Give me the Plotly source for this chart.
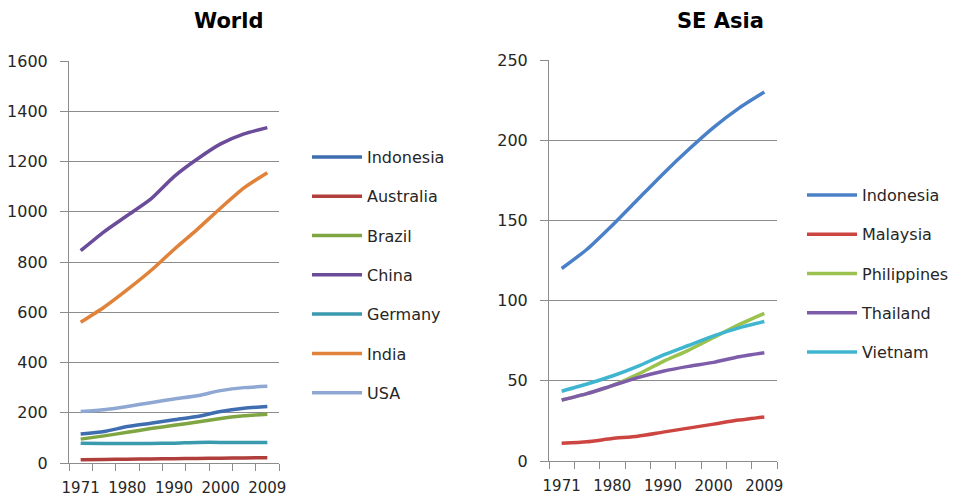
import plotly.graph_objects as go

# Population (millions), 1971-2009
years = ["1971", "1975", "1980", "1985", "1990", "1995", "2000", "2005", "2009"]
year_labels = ["1971", "", "1980", "", "1990", "", "2000", "", "2009"]

# World panel
world_names = ["Indonesia", "Australia", "Brazil", "China", "Germany", "India", "USA"]
world_colors = ["#3E6DB0", "#B03E3B", "#7FA643", "#6B4C9A", "#3A9AAE", "#E0823A", "#8EA8D3"]
indonesia_w = [115, 125, 145, 158, 172, 185, 205, 218, 225]
australia = [13, 14, 15, 16, 17, 18, 19, 20, 21]
brazil = [95, 108, 122, 137, 150, 163, 177, 188, 194]
china = [845, 920, 985, 1050, 1140, 1210, 1270, 1310, 1335]
germany = [79, 78, 78, 78, 79, 82, 82, 82, 82]
india = [560, 620, 690, 765, 850, 930, 1015, 1095, 1155]
usa = [205, 212, 225, 240, 255, 268, 288, 300, 305]
world_series = [indonesia_w, australia, brazil, china, germany, india, usa]

# SE Asia panel
sea_names = ["Indonesia", "Malaysia", "Philippines", "Thailand", "Vietnam"]
sea_colors = ["#4A80C8", "#CC4540", "#9BC24F", "#7D5CAA", "#3FB5D0"]
indonesia_s = [120, 132, 147, 163, 179, 194, 208, 220, 230]
malaysia = [11, 12, 14, 15.5, 18, 20.5, 23, 25.5, 27.5]
philippines = [38, 42, 47, 54, 62, 69, 77, 85, 92]
thailand = [38, 42, 47, 52, 56, 59, 61.5, 65, 67.5]
vietnam = [43.5, 48, 53, 59, 66, 72, 78, 83, 87]
sea_series = [indonesia_s, malaysia, philippines, thailand, vietnam]

W, H = 961, 498
FONT = "DejaVu Sans"
TXT = "#262626"
GRID = "#8C8C8C"

fig = go.Figure()

for name, color, vals in zip(world_names, world_colors, world_series):
    fig.add_trace(go.Scatter(
        x=years, y=vals, name=name, mode="lines",
        line=dict(color=color, width=3.5, shape="spline", smoothing=0.6),
        xaxis="x", yaxis="y", legend="legend", legendgroup="w" + name,
    ))

for name, color, vals in zip(sea_names, sea_colors, sea_series):
    fig.add_trace(go.Scatter(
        x=years, y=vals, name=name, mode="lines",
        line=dict(color=color, width=3.5, shape="spline", smoothing=0.6),
        xaxis="x2", yaxis="y2", legend="legend2", legendgroup="s" + name,
    ))


def px_x(p):
    return p / W


def px_y(p):
    return (H - p) / H


xcommon = dict(
    type="category", range=[-0.5, 8.5], tickmode="array", tickvals=years,
    ticktext=year_labels, tickson="boundaries", ticks="outside", ticklen=7,
    tickcolor=GRID, showline=True, linecolor=GRID, linewidth=1,
    showgrid=False, tickangle=0, automargin=False, ticklabelstandoff=11,
    tickfont=dict(family=FONT, size=15, color=TXT), fixedrange=True,
)
ycommon = dict(
    showline=True, linecolor=GRID, linewidth=1, ticks="outside", ticklen=8,
    tickcolor=GRID, showgrid=True, gridcolor=GRID, gridwidth=1,
    zeroline=False, automargin=False, ticklabelstandoff=9,
    tickfont=dict(family=FONT, size=16, color=TXT), fixedrange=True,
)

legcommon = dict(
    font=dict(family=FONT, size=16, color=TXT), bgcolor="rgba(0,0,0,0)",
    xanchor="left", yanchor="top", tracegroupgap=15.5, itemwidth=50,
    traceorder="grouped",
)

fig.update_layout(
    width=W, height=H, margin=dict(l=0, r=0, t=0, b=0, autoexpand=False),
    paper_bgcolor="white", plot_bgcolor="white",
    xaxis=dict(domain=[px_x(69), px_x(279)], anchor="y", **xcommon),
    yaxis=dict(domain=[px_y(463), px_y(61)], anchor="x", range=[0, 1600],
               dtick=200, **ycommon),
    xaxis2=dict(domain=[px_x(549), px_x(777)], anchor="y2", **xcommon),
    yaxis2=dict(domain=[px_y(461), px_y(60)], anchor="x2", range=[0, 250],
                dtick=50, **ycommon),
    legend=dict(x=px_x(307), y=px_y(140), **legcommon),
    legend2=dict(x=px_x(802), y=px_y(178), **legcommon),
    annotations=[
        dict(text="<b>World</b>", x=px_x(228), y=px_y(21), xref="paper",
             yref="paper", xanchor="center", yanchor="middle",
             showarrow=False,
             font=dict(family=FONT, size=21, color="#000000")),
        dict(text="<b>SE Asia</b>", x=px_x(720), y=px_y(21), xref="paper",
             yref="paper", xanchor="center", yanchor="middle",
             showarrow=False,
             font=dict(family=FONT, size=21, color="#000000")),
    ],
)

fig.write_html("out.html")
